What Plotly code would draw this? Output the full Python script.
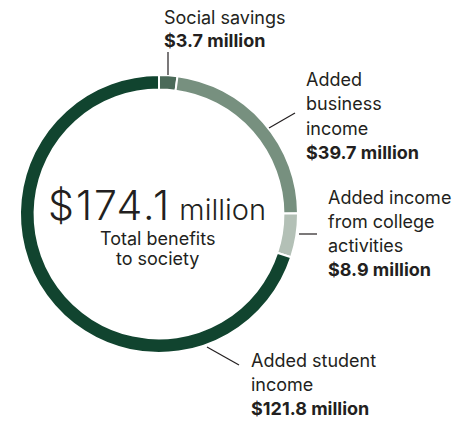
import plotly.graph_objects as go

W, H = 476, 421

# Data
categories = ["Social savings", "Added business income",
              "Added income from college activities", "Added student income"]
values = [3.7, 39.7, 8.9, 121.8]
label_lines = [["Social savings"], ["Added", "business", "income"],
               ["Added income", "from college", "activities"], ["Added student", "income"]]
colors = ["#4b6a59", "#77907f", "#b3c0b6", "#11442f"]
center_caption = ["Total benefits", "to society"]

TXT = "#231f20"
FONT = "Inter"

def px(x):
    return x / W

def py(y):
    return 1 - y / H

# donut geometry (pixels)
cx, cy, R = 159, 214, 139

fig = go.Figure(go.Pie(
    labels=categories, values=values, sort=False, direction="clockwise",
    rotation=0, hole=0.895, textinfo="none", hoverinfo="label+value",
    marker=dict(colors=colors, line=dict(color="white", width=2)),
    domain=dict(x=[px(cx - R), px(cx + R)], y=[py(cy + R), py(cy - R)]),
    showlegend=False,
))

annotations = []
# label positions: (left x, first line center y)
label_pos = [(162, 17), (304, 80), (326, 197), (249, 360)]
step = 24
for lines, v, (lx, ly) in zip(label_lines, values, label_pos):
    allines = [(t, False) for t in lines] + [(f"${v:.1f} million", True)]
    for i, (t, bold) in enumerate(allines):
        annotations.append(dict(
            x=px(lx), y=py(ly + i * step), xref="paper", yref="paper",
            xanchor="left", yanchor="middle", showarrow=False,
            text=(f"<b>{t}</b>" if bold else t),
            font=dict(family=FONT, size=18, color=TXT),
        ))

total = sum(values)
annotations.append(dict(
    x=px(157), y=py(205), xref="paper", yref="paper", xanchor="center", yanchor="middle",
    showarrow=False,
    text=(f"<span style='font-size:41px;font-weight:300;letter-spacing:2px'>${total:.1f}</span>"
          f"<span style='font-size:29px'> million</span>"),
    font=dict(family=FONT, size=29, color=TXT, weight=300),
))
for i, t in enumerate(center_caption):
    annotations.append(dict(
        x=px(157), y=py(238 + i * 20), xref="paper", yref="paper", xanchor="center",
        yanchor="middle", showarrow=False, text=t,
        font=dict(family=FONT, size=18, color=TXT),
    ))

# leader lines (pixel endpoints)
leaders = [((168, 52), (168, 75)), ((269, 128), (295, 113)),
           ((299, 234), (317, 234)), ((207, 347), (239, 365))]
shapes = [dict(type="line", xref="paper", yref="paper",
               x0=px(a[0]), y0=py(a[1]), x1=px(b[0]), y1=py(b[1]),
               line=dict(color=TXT, width=1.2)) for a, b in leaders]

fig.update_layout(
    width=W, height=H, margin=dict(l=0, r=0, t=0, b=0),
    paper_bgcolor="white", plot_bgcolor="white",
    annotations=annotations, shapes=shapes,
)
fig.write_html("out.html", config={"displayModeBar": False},
               post_script="document.body.style.margin='0px';")
